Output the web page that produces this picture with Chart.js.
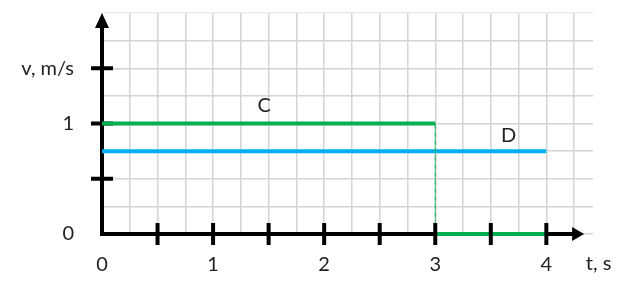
<!DOCTYPE html>
<html>
<head>
<meta charset="utf-8">
<script src="https://cdn.jsdelivr.net/npm/chart.js@4/dist/chart.umd.min.js"></script>
<style>
  html, body { margin: 0; padding: 0; background: #fff; }
</style>
</head>
<body>
<canvas id="grafica" width="640" height="290"></canvas>
<script>
// datos: recorrido C (verde) y D (azul)
const tC = [0, 3, 3, 4];
const vC = [1, 1, 0, 0];
const tD = [0, 4];
const vD = [0.75, 0.75];
const seriesNames = ['C', 'D'];

// marcas y etiquetas de los ejes
const tTickMarks = [0.5, 1, 1.5, 2, 2.5, 3, 3.5, 4];
const vTickMarks = [0.5, 1, 1.5];
const tTickLabels = ['0', '1', '2', '3', '4'];
const vTickLabels = { 0: '0', 1: '1', 1.5: 'v, m/s' };
const tAxisName = 't, s';

const FONT = 'Lato';
const verde = '#00b050';
const azul = '#00b0f0';

const ejes = {
  id: 'ejes',
  beforeDatasetsDraw(chart) {
    const { ctx, scales: { x, y } } = chart;
    const x0 = x.getPixelForValue(0), y0 = y.getPixelForValue(0);
    const xEnd = x.getPixelForValue(4.34), yEnd = y.getPixelForValue(2);
    ctx.save();
    ctx.strokeStyle = '#000';
    ctx.fillStyle = '#000';
    ctx.lineWidth = 4;
    // eje v
    ctx.beginPath();
    ctx.moveTo(x0, y0 + 2);
    ctx.lineTo(x0, yEnd + 8);
    ctx.stroke();
    ctx.beginPath();
    ctx.moveTo(x0, yEnd);
    ctx.lineTo(x0 - 7, yEnd + 15);
    ctx.lineTo(x0 + 7, yEnd + 15);
    ctx.closePath();
    ctx.fill();
    // eje t
    ctx.beginPath();
    ctx.moveTo(x0 - 2, y0);
    ctx.lineTo(xEnd - 8, y0);
    ctx.stroke();
    ctx.beginPath();
    ctx.moveTo(xEnd, y0);
    ctx.lineTo(xEnd - 12, y0 - 7);
    ctx.lineTo(xEnd - 12, y0 + 7);
    ctx.closePath();
    ctx.fill();
    // marcas del eje v
    vTickMarks.forEach(v => {
      const py = y.getPixelForValue(v);
      ctx.fillRect(x0 - 11, py - 2, 22, 4);
    });
    ctx.restore();
  },
  afterDatasetsDraw(chart) {
    const { ctx, scales: { x, y } } = chart;
    const y0 = y.getPixelForValue(0);
    ctx.save();
    ctx.fillStyle = '#000';
    tTickMarks.forEach(t => {
      const px = x.getPixelForValue(t);
      ctx.fillRect(px - 2, y0 - 11, 4, 22);
    });
    // nombres de las series y del eje t
    ctx.fillStyle = '#222';
    ctx.font = '20px ' + FONT;
    ctx.textAlign = 'center';
    ctx.textBaseline = 'middle';
    ctx.fillText(seriesNames[0], x.getPixelForValue(1.46), y.getPixelForValue(1.16));
    ctx.fillText(seriesNames[1], x.getPixelForValue(3.66), y.getPixelForValue(0.89));
    ctx.fillText(tAxisName, x.getPixelForValue(4.47), y0 + 30);
    ctx.restore();
  }
};

new Chart(document.getElementById('grafica').getContext('2d'), {
  type: 'scatter',
  data: {
    datasets: [
      {
        label: seriesNames[0],
        data: tC.map((t, i) => ({ x: t, y: vC[i] })),
        showLine: true,
        clip: false,
        borderColor: verde,
        borderWidth: 4,
        pointRadius: 0,
        segment: {
          borderWidth: c => c.p0.parsed.x === c.p1.parsed.x ? 1 : 4,
          borderDash: c => c.p0.parsed.x === c.p1.parsed.x ? [5, 3] : [],
          borderColor: c => c.p0.parsed.x === c.p1.parsed.x ? 'rgba(0,176,80,0.6)' : verde
        }
      },
      {
        label: seriesNames[1],
        data: tD.map((t, i) => ({ x: t, y: vD[i] })),
        showLine: true,
        clip: false,
        borderColor: azul,
        borderWidth: 4,
        pointRadius: 0
      }
    ]
  },
  options: {
    responsive: false,
    animation: false,
    layout: { autoPadding: false, padding: { top: 13, right: 47, left: 0, bottom: 0 } },
    plugins: { legend: { display: false }, tooltip: { enabled: false } },
    scales: {
      x: {
        type: 'linear',
        min: 0,
        max: 4.42,
        afterFit: s => { s.height = 56; },
        border: { display: false },
        grid: { color: '#d4d4d4', lineWidth: 1.5, drawTicks: false },
        ticks: {
          stepSize: 0.25,
          includeBounds: false,
          autoSkip: false,
          maxRotation: 0,
          padding: 19,
          color: '#222',
          font: { family: FONT, size: 20 },
          callback: v => Number.isInteger(v) ? tTickLabels[v] : ''
        }
      },
      y: {
        type: 'linear',
        min: 0,
        max: 2,
        afterFit: s => { s.width = 102; },
        border: { display: false },
        grid: {
          color: c => c.tick.value === 2 ? '#ebebeb' : '#d4d4d4',
          lineWidth: 1.5,
          drawTicks: true,
          tickLength: 28,
          tickColor: 'rgba(0,0,0,0)'
        },
        ticks: {
          stepSize: 0.25,
          autoSkip: false,
          padding: 0,
          color: '#222',
          font: { family: FONT, size: 20 },
          callback: v => vTickLabels[v] || ''
        }
      }
    }
  },
  plugins: [ejes]
});
</script>
</body>
</html>
